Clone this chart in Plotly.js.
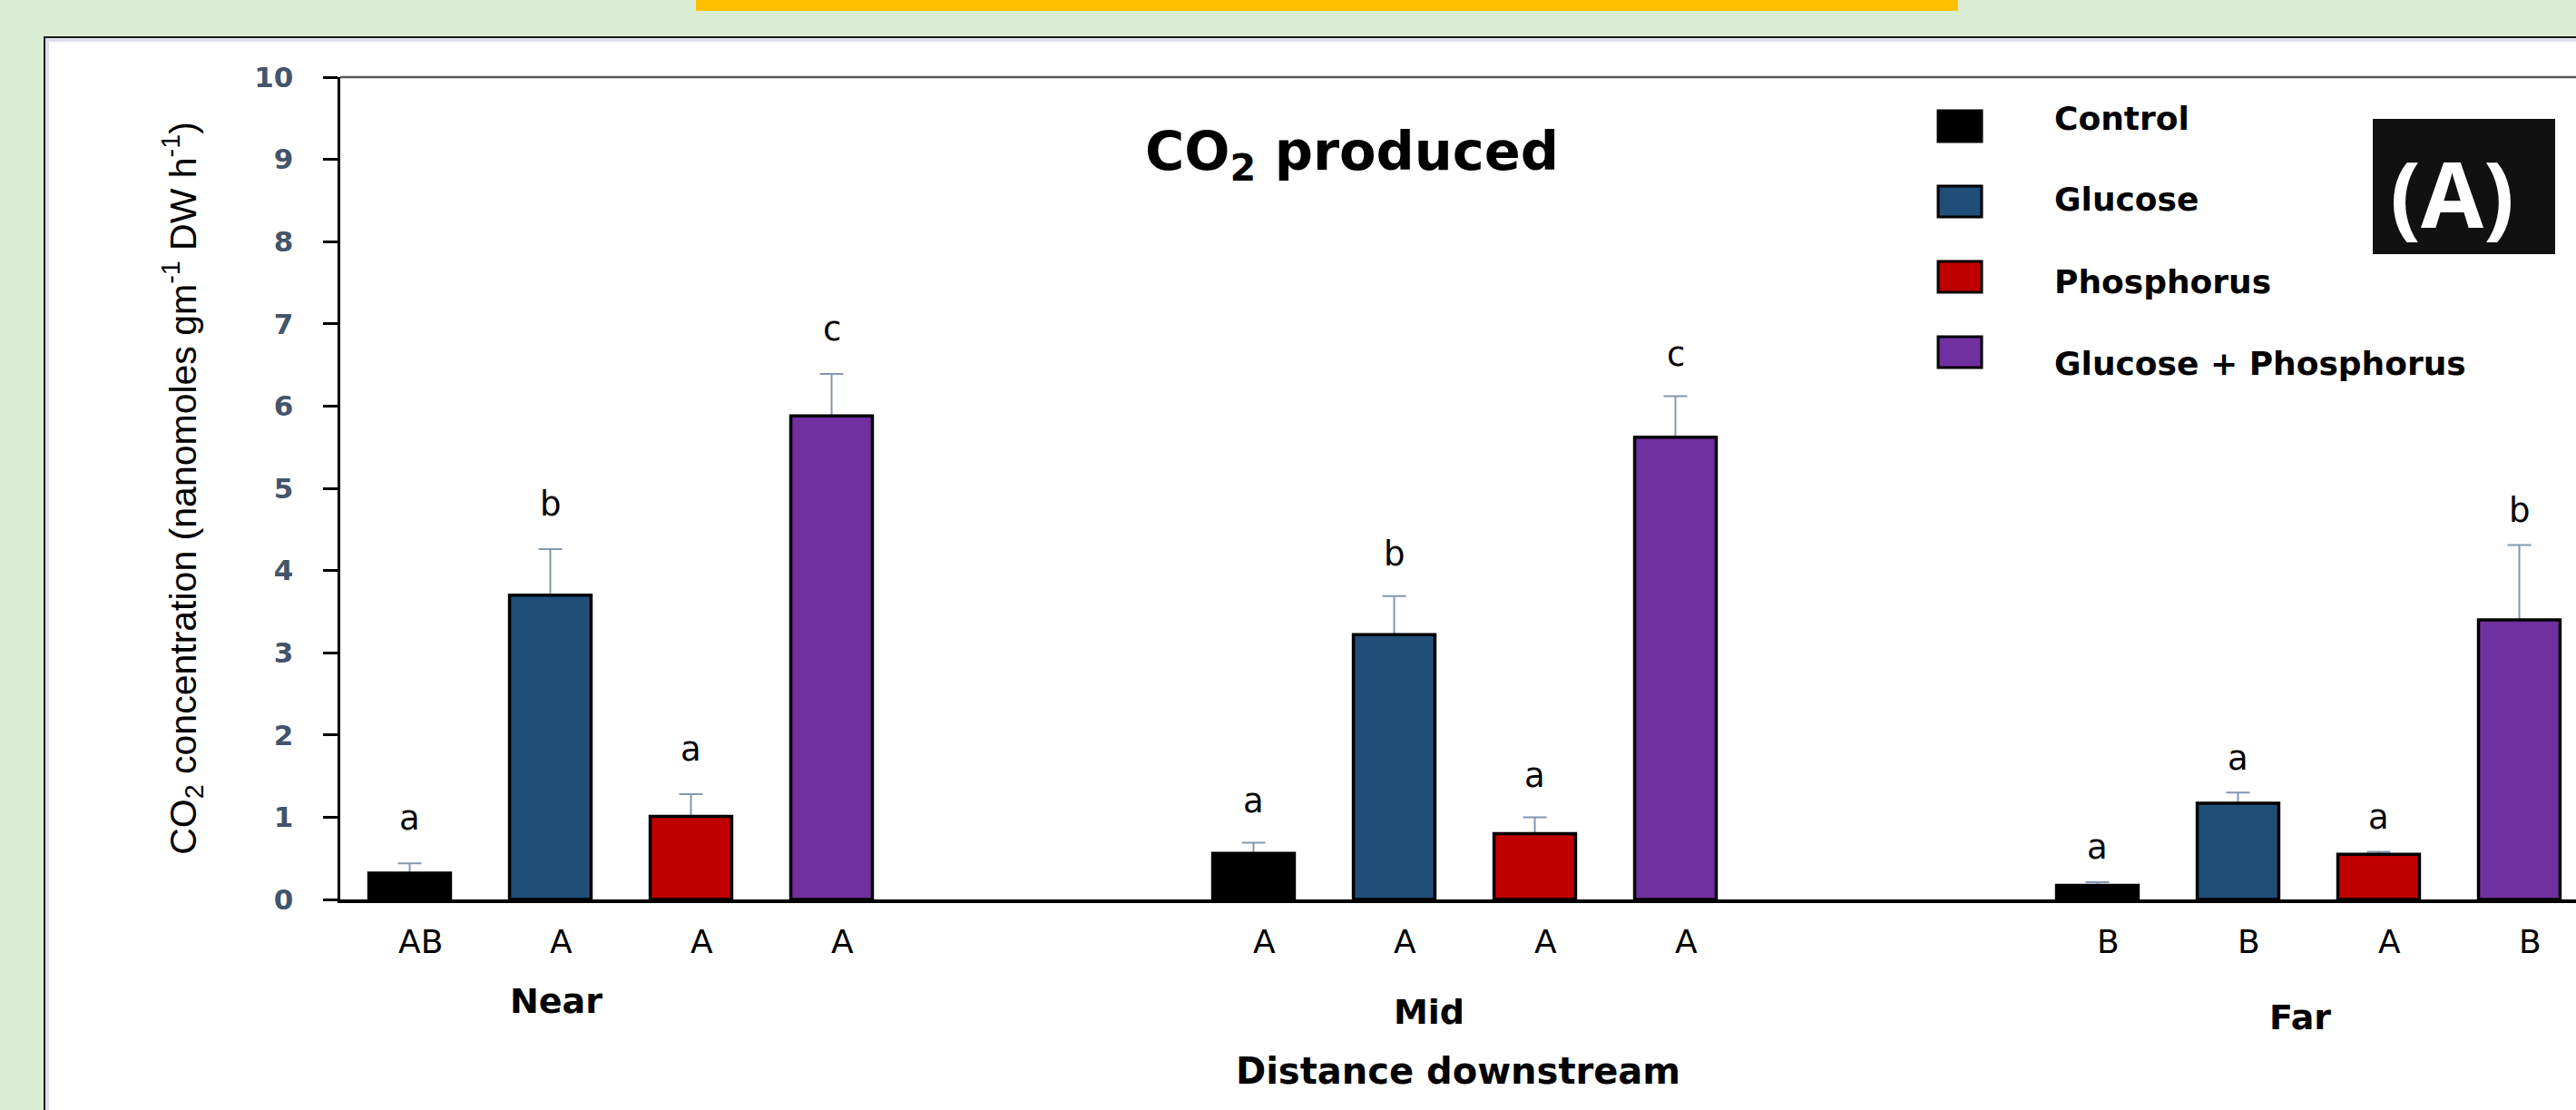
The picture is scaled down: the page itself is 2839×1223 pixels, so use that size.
<!DOCTYPE html>
<html>
<head>
<meta charset="utf-8">
<script src="https://cdn.plot.ly/plotly-3.0.1.min.js"></script>
<style>
  html, body { margin: 0; padding: 0; background: #DAEDD3; overflow: hidden; }
  #chart { width: 2839px; height: 1223px; }
</style>
</head>
<body>
<div id="chart"></div>
<script>
// ---------------- DATA ----------------
const categories = ['Near', 'Mid', 'Far'];
const seriesNames = ['Control', 'Glucose', 'Phosphorus', 'Glucose + Phosphorus'];

const controlMean    = [0.32, 0.56, 0.17];
const glucoseMean    = [3.70, 3.22, 1.17];
const phosphorusMean = [1.01, 0.80, 0.55];
const glucPhosMean   = [5.88, 5.62, 3.40];

const controlErr    = [0.12, 0.13, 0.04];
const glucoseErr    = [0.56, 0.47, 0.13];
const phosphorusErr = [0.27, 0.20, 0.03];
const glucPhosErr   = [0.51, 0.50, 0.91];

// letters above bars (treatment differences within a site)
const controlSig    = ['a', 'a', 'a'];
const glucoseSig    = ['b', 'b', 'a'];
const phosphorusSig = ['a', 'a', 'a'];
const glucPhosSig   = ['c', 'c', 'b'];

// letters below bars (site differences within a treatment)
const controlSite    = ['AB', 'A', 'B'];
const glucoseSite    = ['A', 'A', 'B'];
const phosphorusSite = ['A', 'A', 'A'];
const glucPhosSite   = ['A', 'A', 'B'];

const yTickValues = [0, 1, 2, 3, 4, 5, 6, 7, 8, 9, 10];

const chartTitle = 'CO<sub>2</sub> produced';
const yTitle = 'CO<sub>2</sub> concentration (nanomoles gm<sup>-1</sup> DW h<sup>-1</sup>)';
const xTitle = 'Distance downstream';
const panelTag = '(A)';

// ---------------- STYLE / LAYOUT ----------------
const means = [controlMean, glucoseMean, phosphorusMean, glucPhosMean];
const errs = [controlErr, glucoseErr, phosphorusErr, glucPhosErr];
const sigs = [controlSig, glucoseSig, phosphorusSig, glucPhosSig];
const sites = [controlSite, glucoseSite, phosphorusSite, glucPhosSite];
const colors = ['#000000', '#1F4E79', '#C00000', '#7030A0'];

const W = 2839, H = 1223;
const L = 375, T = 85, B = 991;
const PW = W - L, PH = B - T;
const firstGroupPx = 684, groupPx = 930;
const BARGAP = 1 / 3, NSER = 4;
const slot = (1 - BARGAP) / NSER;

const px = x => (x - L) / PW;
const py = y => (B - y) / PH;

const FONT = 'DejaVu Sans, Verdana, sans-serif';
const sigShift = [50, 46, 38];
const groupLabelDx = [-71, -39, -9];
const groupLabelDy = [-112, -124, -130];

const traces = [];
// error bars carried by transparent bars drawn first (so the lower cap is hidden)
for (let i = 0; i < NSER; i++) {
  traces.push({
    type: 'bar', x: categories, y: means[i], offsetgroup: 'g' + i,
    marker: { color: 'rgba(0,0,0,0)', line: { width: 0 } },
    error_y: { type: 'data', symmetric: false, array: errs[i],
               arrayminus: errs[i].map(() => 0),
               color: '#8497B0', thickness: 2, width: 13 },
    showlegend: false, hoverinfo: 'skip'
  });
}
for (let i = 0; i < NSER; i++) {
  traces.push({
    type: 'bar', name: seriesNames[i], x: categories, y: means[i], offsetgroup: 'g' + i,
    marker: { color: colors[i], line: { color: '#000000', width: 3.5 } },
    showlegend: false
  });
}

const annotations = [];
for (let i = 0; i < NSER; i++) {
  for (let c = 0; c < categories.length; c++) {
    const xc = c + (i - (NSER - 1) / 2) * slot;
    annotations.push({
      xref: 'x', yref: 'y', x: xc, y: means[i][c] + errs[i][c],
      text: sigs[i][c], showarrow: false, yanchor: 'middle', yshift: sigShift[c],
      font: { family: FONT, size: 37, color: '#000000' }
    });
    annotations.push({
      xref: 'x', yref: 'y', x: xc, y: 0,
      text: sites[i][c], showarrow: false, yanchor: 'middle', yshift: -46, xshift: 12,
      font: { family: FONT, size: 36, color: '#000000' }
    });
  }
}
for (let c = 0; c < categories.length; c++) {
  annotations.push({
    xref: 'x', yref: 'y', x: c, y: 0, text: categories[c], showarrow: false,
    xshift: groupLabelDx[c], yshift: groupLabelDy[c], yanchor: 'middle',
    font: { family: FONT, size: 38, weight: 'bold', color: '#000000' }
  });
}

// legend (drawn by hand to get the large swatches)
const shapes = [
  // white panel with dark outline and thin bluish inner edge
  { type: 'rect', xref: 'paper', yref: 'paper', layer: 'below',
    x0: px(49), x1: px(2860), y0: py(41), y1: py(1240),
    fillcolor: '#DCE1EB', line: { color: '#1a1a1a', width: 2 } },
  { type: 'rect', xref: 'paper', yref: 'paper', layer: 'below',
    x0: px(54), x1: px(2860), y0: py(46), y1: py(1240),
    fillcolor: '#FFFFFF', line: { width: 0 } },
  // orange strip at the very top
  { type: 'rect', xref: 'paper', yref: 'paper', layer: 'below',
    x0: px(767), x1: px(2158), y0: py(0), y1: py(12),
    fillcolor: '#FFC000', line: { width: 0 } },
  // top frame line of plot area
  { type: 'line', xref: 'paper', yref: 'paper', layer: 'above',
    x0: 0, x1: 1, y0: 1, y1: 1, line: { color: '#555555', width: 2.5 } },
  // (A) tag box
  { type: 'rect', xref: 'paper', yref: 'paper', layer: 'above',
    x0: px(2615), x1: px(2816), y0: py(131), y1: py(280),
    fillcolor: '#111111', line: { width: 0 } }
];
for (let i = 0; i < NSER; i++) {
  const cy = 139 + i * 83;
  shapes.push({ type: 'rect', xref: 'paper', yref: 'paper', layer: 'above',
    x0: px(2136), x1: px(2184), y0: py(cy - 17), y1: py(cy + 17),
    fillcolor: colors[i], line: { color: '#000000', width: 3 } });
  annotations.push({ xref: 'paper', yref: 'paper', x: px(2262), y: py(130 + i * 90),
    xanchor: 'left', yanchor: 'middle', text: seriesNames[i], showarrow: false,
    font: { family: FONT, size: 36, weight: 'bold', color: '#000000' } });
}
annotations.push({ xref: 'paper', yref: 'paper', x: px(2702), y: py(212),
  xanchor: 'center', yanchor: 'middle', text: panelTag, showarrow: false,
  font: { family: 'Open Sans, sans-serif', size: 100, weight: 'bold', color: '#FFFFFF' } });

const layout = {
  width: W, height: H,
  margin: { l: L, r: 0, t: T, b: H - B, pad: 0 },
  paper_bgcolor: '#DAEDD3', plot_bgcolor: 'rgba(0,0,0,0)',
  barmode: 'group', bargap: BARGAP, bargroupgap: 0.42,
  showlegend: false,
  title: { text: chartTitle, xref: 'paper', x: px(1490), xanchor: 'center',
           yref: 'container', y: 1 - 166 / H, yanchor: 'middle',
           font: { family: FONT, size: 59, weight: 'bold', color: '#000000' } },
  xaxis: {
    type: 'category', range: [-(firstGroupPx - L) / groupPx, (W - firstGroupPx) / groupPx],
    showline: true, linecolor: '#000000', linewidth: 3.5,
    ticks: '', showticklabels: false, showgrid: false, zeroline: false, fixedrange: true,
    title: { text: xTitle, standoff: 173,
             font: { family: FONT, size: 40, weight: 'bold', color: '#000000' } }
  },
  yaxis: {
    range: [0, 10], tickvals: yTickValues, ticks: 'outside', ticklen: 16, tickwidth: 3,
    tickcolor: '#000000', showline: true, linecolor: '#000000', linewidth: 3.5,
    showgrid: false, zeroline: false, fixedrange: true, ticklabelstandoff: 26,
    tickfont: { family: FONT, size: 31, weight: 'bold', color: '#44546A' },
    title: { text: yTitle, standoff: 52,
             font: { family: "'Liberation Sans Narrow', 'Liberation Sans', Arial, sans-serif", size: 41, color: '#000000' } }
  },
  shapes: shapes,
  annotations: annotations
};

Plotly.newPlot('chart', traces, layout, { displayModeBar: false, staticPlot: true });
</script>
</body>
</html>
